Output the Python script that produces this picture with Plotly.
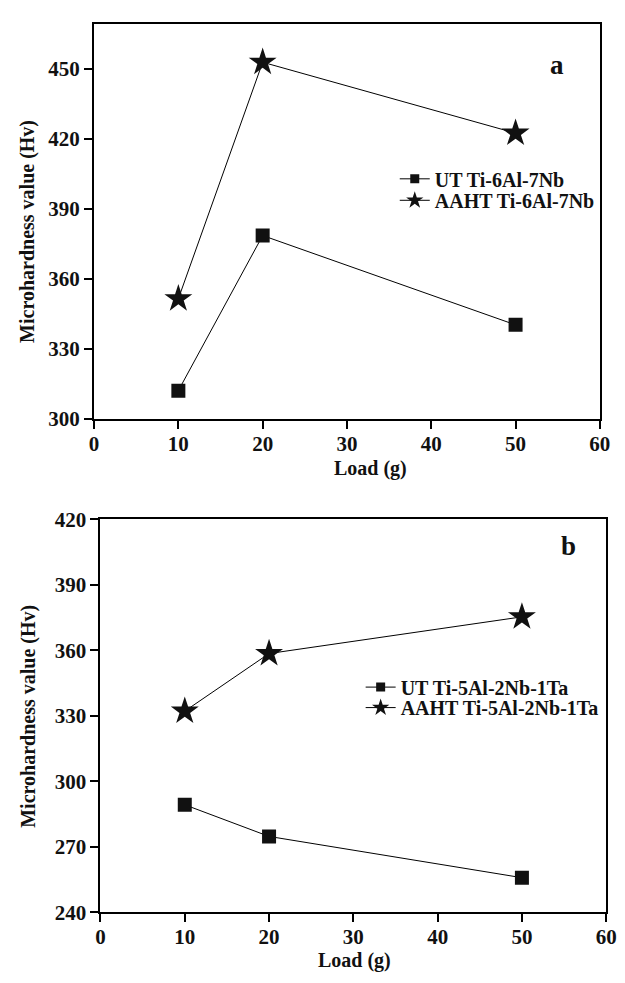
import plotly.graph_objects as go

# Microhardness vs. indentation load
load = [10, 20, 50]

ut_a = [312.0, 378.5, 340.2]
aaht_a = [351.4, 452.8, 422.4]
ut_b = [289.2, 274.7, 255.8]
aaht_b = [332.1, 358.5, 375.3]

names_a = ["UT Ti-6Al-7Nb", "AAHT Ti-6Al-7Nb"]
names_b = ["UT Ti-5Al-2Nb-1Ta", "AAHT Ti-5Al-2Nb-1Ta"]

x_ticks = [0, 10, 20, 30, 40, 50, 60]
y_ticks_a = [300, 330, 360, 390, 420, 450]
y_ticks_b = [240, 270, 300, 330, 360, 390, 420]

W, H = 625, 983
FONT = "Liberation Serif"
INK = "#111111"


def fx(px):
    return px / W


def fy(px):
    return 1 - px / H


def bold(vals):
    return [f"<b>{v}</b>" for v in vals]


fig = go.Figure()

line_style = dict(color="black", width=1)


def add_series(xa, ya, ut, aaht, names, legends):
    fig.add_trace(go.Scatter(
        x=load, y=ut, mode="lines+markers", xaxis=xa, yaxis=ya,
        line=line_style, showlegend=False,
        marker=dict(symbol="square", size=14, color=INK)))
    fig.add_trace(go.Scatter(
        x=load, y=aaht, mode="lines+markers", xaxis=xa, yaxis=ya,
        line=line_style, showlegend=False,
        marker=dict(symbol="star", size=21, color=INK)))
    # legend entries with smaller sample symbols, one legend per row
    fig.add_trace(go.Scatter(
        x=[None], y=[None], mode="lines+markers", xaxis=xa, yaxis=ya,
        line=line_style, name=names[0], legend=legends[0],
        marker=dict(symbol="square", size=9, color=INK)))
    fig.add_trace(go.Scatter(
        x=[None], y=[None], mode="lines+markers", xaxis=xa, yaxis=ya,
        line=line_style, name=names[1], legend=legends[1],
        marker=dict(symbol="star", size=13, color=INK)))


add_series("x", "y", ut_a, aaht_a, names_a, ["legend", "legend2"])
add_series("x2", "y2", ut_b, aaht_b, names_b, ["legend3", "legend4"])

axis_common = dict(
    showline=True, linecolor="black", linewidth=2, mirror=True,
    ticks="outside", ticklen=8, tickwidth=2, tickcolor="black",
    showgrid=False, zeroline=False,
    tickfont=dict(family=FONT, size=21, color=INK, weight="bold"),
)
x_extra = dict(ticklabelstandoff=-3)
y_extra = dict(ticklabelstandoff=0)

legend_font = dict(family=FONT, size=20, color=INK, weight="bold")


def legend_at(x_text, y_row):
    return dict(x=fx(x_text), y=fy(y_row), xanchor="left", yanchor="middle",
                bgcolor="rgba(0,0,0,0)", borderwidth=0, font=legend_font)


fig.update_layout(
    width=W, height=H,
    margin=dict(l=0, r=0, t=0, b=0),
    paper_bgcolor="white", plot_bgcolor="white",
    xaxis=dict(axis_common, **x_extra, domain=[fx(91.4), fx(610.5)], range=[0, 60],
               tickvals=x_ticks, ticktext=bold(x_ticks), anchor="y"),
    yaxis=dict(axis_common, **y_extra, domain=[fy(416.8), fy(12.3)], range=[300, 469.2],
               tickvals=y_ticks_a, ticktext=bold(y_ticks_a), anchor="x"),
    xaxis2=dict(axis_common, **x_extra, domain=[fx(98), fx(617)], range=[0, 60],
                tickvals=x_ticks, ticktext=bold(x_ticks), anchor="y2"),
    yaxis2=dict(axis_common, **y_extra, domain=[fy(922.7), fy(520)], range=[240, 420],
                tickvals=y_ticks_b, ticktext=bold(y_ticks_b), anchor="x2"),
    legend=legend_at(400, 171),
    legend2=legend_at(400, 193),
    legend3=legend_at(365, 692),
    legend4=legend_at(365, 713),
    showlegend=True,
)

title_font = dict(family=FONT, size=20, color=INK, weight="bold")

annotations = [
    dict(text="<b>Microhardness value (Hv)</b>", x=fx(23), y=fy(225), textangle=-90),
    dict(text="<b>Load (g)</b>", x=fx(375), y=fy(468)),
    dict(text="<b>Microhardness value (Hv)</b>", x=fx(24), y=fy(722), textangle=-90),
    dict(text="<b>Load (g)</b>", x=fx(359), y=fy(972)),
]
for a in annotations:
    fig.add_annotation(xref="paper", yref="paper", showarrow=False,
                       xanchor="center", yanchor="middle", font=title_font, **a)

panel_font = dict(family=FONT, size=27, color=INK, weight="bold")
fig.add_annotation(text="<b>a</b>", x=fx(576), y=fy(37), xref="paper", yref="paper",
                   showarrow=False, font=panel_font)
fig.add_annotation(text="<b>b</b>", x=fx(588), y=fy(547), xref="paper", yref="paper",
                   showarrow=False, font=panel_font)

fig.write_html("out.html")
